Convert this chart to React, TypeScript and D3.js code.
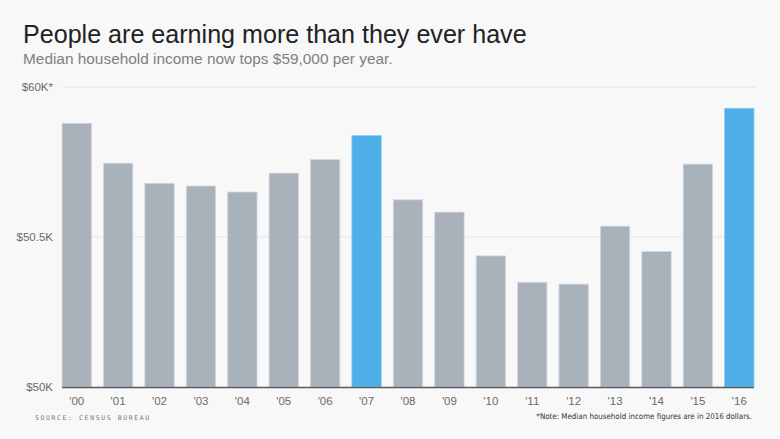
import React from "react";
import * as d3 from "d3";

const years = ["'00","'01","'02","'03","'04","'05","'06","'07","'08","'09","'10","'11","'12","'13","'14","'15","'16"];
const incomeK = [58.79,57.46,56.79,56.70,56.50,57.13,57.58,58.38,56.24,55.83,54.37,53.49,53.43,55.36,54.52,57.43,59.29];
const highlighted = ["'07","'16"];
const yTicks = [50, 55, 60];
const yTickLabels = ["$50K", "$50.5K", "$60K*"];

const W = 780, H = 439;
const left = 62, right = 754, top = 87, bottom = 387;

export default function App() {
  const x = d3.scaleBand<string>().domain(years).range([left, right]).paddingInner(0.29).paddingOuter(0);
  const y = d3.scaleLinear().domain([50, 60]).range([bottom, top]);
  const font = "'Liberation Sans', Arial, Helvetica, sans-serif";
  return (
    <div style={{ position: "fixed", left: 0, top: 0, width: W, height: H }}>
      <svg width={W} height={H} style={{ display: "block", background: "#f8f8f8" }}>
        <rect x={0} y={0} width={W} height={H} fill="#f8f8f8" />
        <text x={23} y={43} fontFamily={font} fontSize={25.1} fill="#222">People are earning more than they ever have</text>
        <text x={23} y={64} fontFamily={font} fontSize={15.4} fill="#808080">Median household income now tops $59,000 per year.</text>
        {yTicks.map((t, i) => (
          <g key={t}>
            {i > 0 && <line x1={63} x2={756} y1={y(t)} y2={y(t)} stroke="#e4e4ea" strokeWidth={1.2} />}
            <text x={53} y={y(t)} dy="0.35em" textAnchor="end" fontFamily={font} fontSize={11.5} fill="#6a6a6a">{yTickLabels[i]}</text>
          </g>
        ))}
        {years.map((yr, i) => {
          const hi = highlighted.includes(yr);
          return (
            <rect key={yr} x={x(yr)} y={y(incomeK[i])} width={x.bandwidth()} height={bottom - y(incomeK[i])}
              fill={hi ? "#4daee8" : "#a9b1ba"} stroke={hi ? "#8fcdf2" : "#d4d9de"} strokeWidth={0.8} />
          );
        })}
        <line x1={left} x2={right} y1={bottom + 0.5} y2={bottom + 0.5} stroke="#555a60" strokeWidth={1.3} />
        {years.map((yr) => (
          <text key={yr} x={(x(yr) as number) + x.bandwidth() / 2} y={405} textAnchor="middle" fontFamily={font} fontSize={11.5} fill="#6a6a6a">{yr}</text>
        ))}
        <text x={35} y={420} fontFamily="'DejaVu Sans Mono', monospace" fontSize={6.5} letterSpacing={1.6} fill="#777">SOURCE: CENSUS BUREAU</text>
        <text x={752} y={419} textAnchor="end" fontFamily="'DejaVu Sans Condensed', 'DejaVu Sans', sans-serif" fontSize={7.9} fill="#333">*Note: Median household income figures are in 2016 dollars.</text>
      </svg>
    </div>
  );
}
